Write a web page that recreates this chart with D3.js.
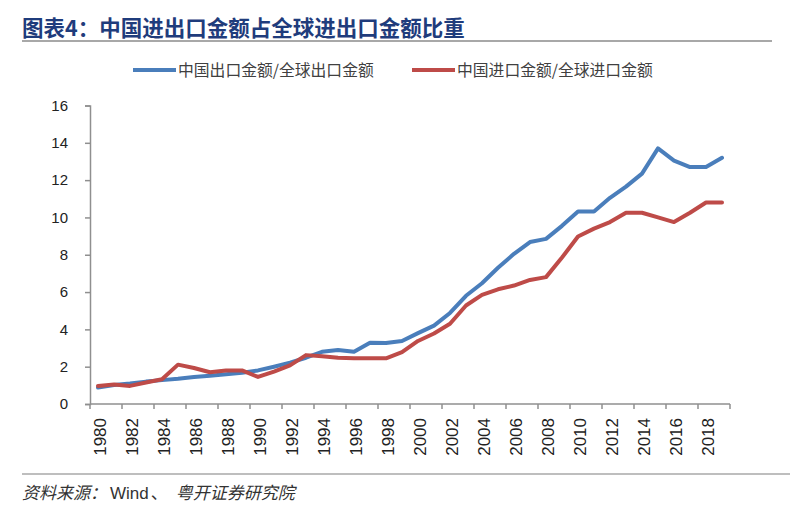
<!DOCTYPE html>
<html><head><meta charset="utf-8">
<script src="https://cdn.jsdelivr.net/npm/d3@7"></script>
<style>body{margin:0;background:#fff}svg{display:block}</style>
</head><body>
<svg id="c" width="800" height="507"></svg>
<script>
const years = d3.range(1980, 2020).map(String);
const exportShare = [0.88,1.02,1.1,1.2,1.28,1.35,1.45,1.52,1.6,1.68,1.8,2.0,2.22,2.48,2.8,2.9,2.8,3.28,3.27,3.38,3.8,4.2,4.88,5.8,6.47,7.3,8.05,8.68,8.85,9.55,10.32,10.32,11.05,11.65,12.35,13.7,13.05,12.7,12.7,13.2];
const importShare = [0.97,1.04,0.97,1.15,1.33,2.11,1.93,1.7,1.8,1.8,1.45,1.74,2.07,2.62,2.56,2.48,2.45,2.45,2.45,2.78,3.38,3.78,4.3,5.28,5.85,6.15,6.35,6.65,6.8,7.85,8.98,9.4,9.75,10.25,10.25,10.0,9.75,10.25,10.8,10.8];
const yTicks = [0,2,4,6,8,10,12,14,16];
const seriesNames = ["中国出口金额/全球出口金额","中国进口金额/全球进口金额"];
const colors = ["#4a7ebb","#be4b48"];

const svg = d3.select("#c");
const x = d3.scaleBand().domain(years).range([90,730]).padding(0);
const y = d3.scaleLinear().domain([0,16]).range([404,105.5]);
const axisColor = "#8f8f8f";

// title
svg.append("text").attr("x",22).attr("y",36).attr("font-family","Noto Sans CJK SC")
  .attr("font-weight","bold").attr("font-size",21.5).attr("fill","#1f3c7c")
  .text("图表4：中国进出口金额占全球进出口金额比重");
svg.append("line").attr("x1",22).attr("x2",772).attr("y1",41).attr("y2",41)
  .attr("stroke","#a8a8a8").attr("stroke-width",2);

// legend
const legX = [133,412];
seriesNames.forEach((n,i)=>{
  svg.append("line").attr("x1",legX[i]).attr("x2",legX[i]+43).attr("y1",70).attr("y2",70)
    .attr("stroke",colors[i]).attr("stroke-width",4);
  svg.append("text").attr("x",legX[i]+45).attr("y",75.5).attr("font-family","Noto Sans CJK SC")
    .attr("font-size",15.8).attr("fill","#404040").text(n);
});

// y axis
const yAxis = d3.axisLeft(y).tickValues(yTicks).tickSize(5).tickPadding(17).tickFormat(d3.format("d"));
const gy = svg.append("g").attr("transform","translate(90,0)").call(yAxis);
gy.select(".domain").attr("stroke",axisColor).attr("stroke-width",1.5);
gy.selectAll(".tick line").attr("stroke",axisColor).attr("stroke-width",1.5);
gy.selectAll(".tick text").attr("font-family","Liberation Sans, Arial").attr("font-size",15).attr("fill","#222");

// x axis
const tickYears = years.filter((d,i)=>i%2===0);
const gx = svg.append("g").attr("transform","translate(0,404)");
gx.append("line").attr("x1",x.range()[0]).attr("x2",x.range()[1]).attr("stroke",axisColor).attr("stroke-width",1.5);
const bounds = tickYears.map(d=>x(d)).concat([x.range()[1]]);
gx.selectAll("line.t").data(bounds).join("line").attr("class","t")
  .attr("x1",d=>d).attr("x2",d=>d).attr("y1",0).attr("y2",5).attr("stroke",axisColor).attr("stroke-width",1.5);
gx.selectAll("text").data(tickYears).join("text")
  .attr("transform",d=>`translate(${x(d)+x.bandwidth()/2+2.5},14) rotate(-90)`)
  .attr("text-anchor","end").attr("dy","0.35em")
  .attr("font-family","Liberation Sans, Arial").attr("font-size",17).attr("fill","#222")
  .text(d=>d);

// lines
const line = d3.line().x((d,i)=>x(years[i])+x.bandwidth()/2).y(d=>y(d));
[exportShare, importShare].forEach((s,i)=>{
  svg.append("path").datum(s).attr("d",line).attr("fill","none")
    .attr("stroke",colors[i]).attr("stroke-width",4).attr("stroke-linejoin","round").attr("stroke-linecap","round");
});

// footer
svg.append("line").attr("x1",22).attr("x2",790).attr("y1",474).attr("y2",474)
  .attr("stroke","#a8a8a8").attr("stroke-width",1.5);
const ft = svg.append("text").attr("x",22).attr("y",499).attr("font-family","Noto Sans CJK SC")
  .attr("font-size",17).attr("fill","#333");
ft.append("tspan").attr("font-style","italic").text("资料来源：");
ft.append("tspan").attr("font-family","Liberation Sans, Arial").attr("dx",3).text("Wind");
ft.append("tspan").attr("dx",2).text("、");
ft.append("tspan").attr("font-style","italic").attr("dx",8).text("粤开证券研究院");
</script>
</body></html>
